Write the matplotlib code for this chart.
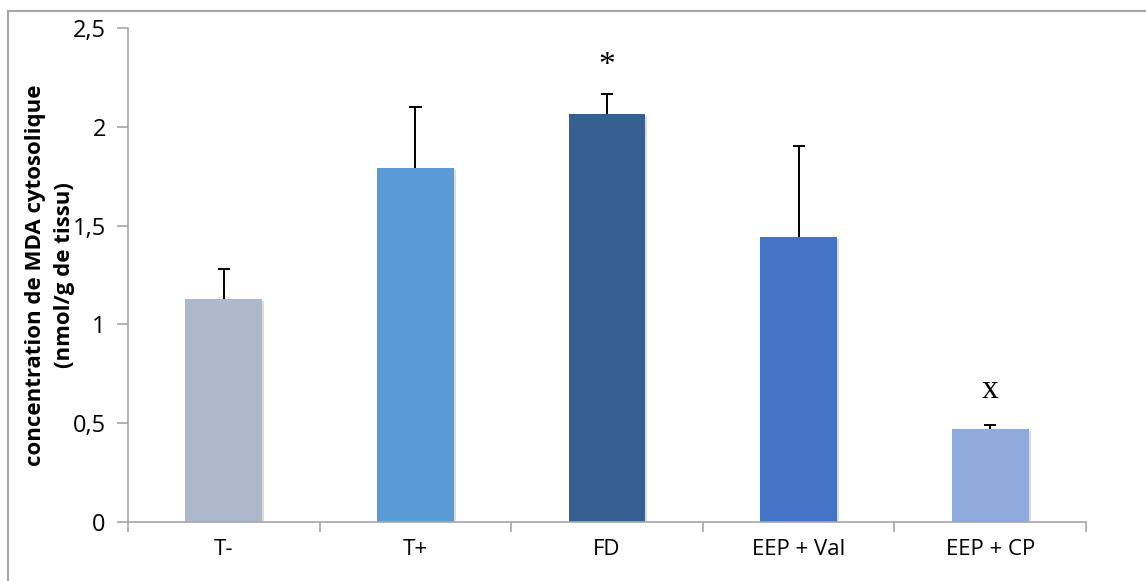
import numpy as np
import matplotlib.pyplot as plt
import matplotlib.patheffects as pe
from matplotlib.lines import Line2D

# Data
groups = ['T-', 'T+', 'FD', 'EEP + Val', 'EEP + CP']
mda = [1.13, 1.79, 2.065, 1.443, 0.472]
sd = [0.15, 0.31, 0.10, 0.46, 0.02]
colors = ['#ADB9CA', '#5B9BD5', '#376092', '#4472C4', '#8FAADC']
marks = ['', '', '*', '', 'x']
mark_y = [0, 0, 2.31, 0, 0.67]

plt.rcParams['font.family'] = ['Open Sans', 'DejaVu Sans']

fig = plt.figure(figsize=(11.46, 5.81), dpi=100)
ax = fig.add_axes([0.1117, 0.1015, 0.836, 0.8503])

x = np.arange(len(groups))
tops = np.array(mda) + np.array(sd)
# upper error bars only (line + top cap)
ax.vlines(x, mda, tops, color='black', lw=1.4, zorder=1)
ax.hlines(tops, x - 0.032, x + 0.032, color='black', lw=1.4, zorder=1)
bars = ax.bar(x, mda, width=0.4, color=colors, zorder=2)
for b in bars:
    b.set_path_effects([pe.SimplePatchShadow(offset=(1.5, -1.5), shadow_rgbFace='#777777', alpha=0.25),
                        pe.Normal()])

for xi, m, my in zip(x, marks, mark_y):
    if m:
        ax.text(xi, my, m, ha='center', va='center', fontsize=24,
                family='Liberation Serif')

ax.set_xlim(-0.5, len(groups) - 0.5)
ax.set_ylim(0, 2.5)
ax.set_yticks([0, 0.5, 1, 1.5, 2, 2.5])
ax.set_yticklabels(['0', '0,5', '1', '1,5', '2', '2,5'], fontsize=17)
ax.set_xticks(x)
ax.set_xticklabels(groups, fontsize=16)
ax.set_xticks(np.arange(-0.5, len(groups)), minor=True)
ax.tick_params(axis='x', which='major', length=0, pad=12)
ax.tick_params(axis='x', which='minor', length=7, color='#A6A6A6', width=1.2)
ax.tick_params(axis='y', length=8, color='#A6A6A6', width=1.2, pad=8)

for s in ['top', 'right']:
    ax.spines[s].set_visible(False)
for s in ['left', 'bottom']:
    ax.spines[s].set_color('#A6A6A6')
    ax.spines[s].set_linewidth(1.2)

fig.text(50 / 1146, 1 - 275 / 581, 'concentration de MDA cytosolique\n(nmol/g de tissu)',
         rotation=90, ha='center', va='center', fontsize=16, fontweight='bold',
         linespacing=1.45)

# outer frame (only left and top edges visible)
fig.add_artist(Line2D([8 / 1146, 8 / 1146], [0, 1 - 11 / 581], transform=fig.transFigure,
                      color='#A6A6A6', lw=1.5))
fig.add_artist(Line2D([8 / 1146, 1], [1 - 11 / 581, 1 - 11 / 581], transform=fig.transFigure,
                      color='#A6A6A6', lw=1.5))

fig.savefig('out.png', dpi=100)
